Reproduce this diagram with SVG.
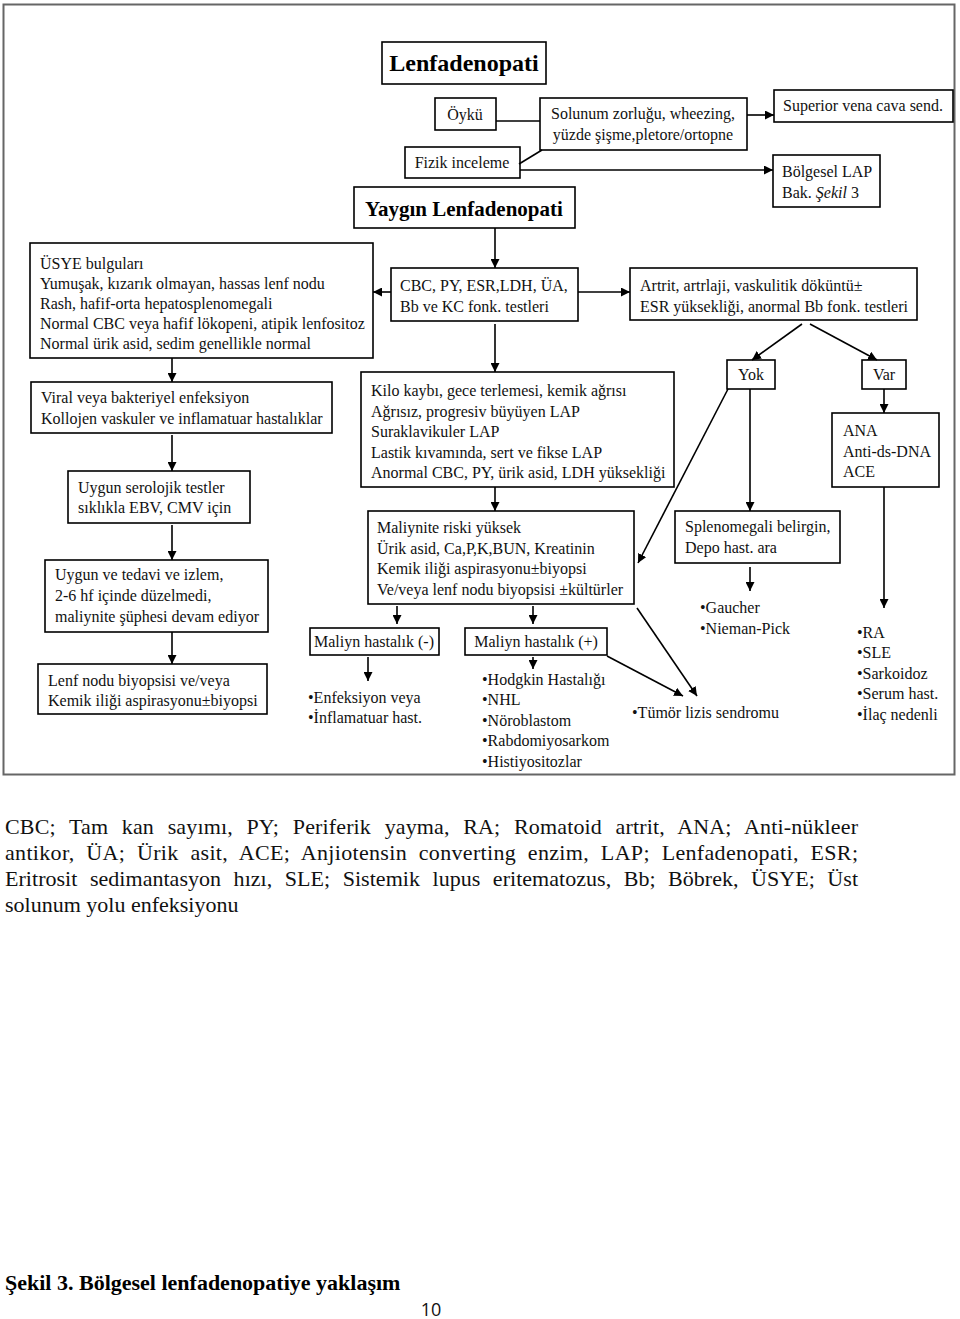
<svg xmlns="http://www.w3.org/2000/svg" width="960" height="1319" viewBox="0 0 960 1319">
<style>
.b{fill:#fff;stroke:#000;stroke-width:1.6}
.t{font-family:"Liberation Serif","Times New Roman",serif;font-size:16px;fill:#111}
.c{text-anchor:middle}
.h{font-family:"Liberation Serif","Times New Roman",serif;font-weight:bold;fill:#000}
.cn line,.cn path{stroke:#000;stroke-width:1.6;fill:none}
.ar{marker-end:url(#ah)}
.fn{font-family:"Liberation Serif","Times New Roman",serif;font-size:22px;fill:#111}
</style>
<defs>
<marker id="ah" markerUnits="userSpaceOnUse" markerWidth="10" markerHeight="9" refX="9" refY="4.5" orient="auto">
<path d="M0,0 L9,4.5 L0,9 z" fill="#000"/>
</marker>
</defs>
<rect width="960" height="1319" fill="#fff"/>
<rect x="3.5" y="4.5" width="951" height="770" fill="none" stroke="#666" stroke-width="2"/>

<g id="n-lenfadenopati"><rect class="b" x="382" y="42" width="164" height="42"/><text class="h c" x="464" y="71" font-size="24">Lenfadenopati</text></g>
<g id="n-oyku"><rect class="b" x="435" y="98" width="61" height="32"/><text class="t c" x="465" y="120">Öykü</text></g>
<g id="n-solunum"><rect class="b" x="540" y="98" width="207" height="52"/><text class="t c" x="643" y="119">Solunum zorluğu, wheezing,</text><text class="t c" x="643" y="140">yüzde şişme,pletore/ortopne</text></g>
<g id="n-superior"><rect class="b" x="774" y="90" width="179" height="32"/><text class="t c" x="863" y="111">Superior vena cava send.</text></g>
<g id="n-fizik"><rect class="b" x="405" y="147" width="115" height="31"/><text class="t c" x="462" y="168">Fizik inceleme</text></g>
<g id="n-bolgesel"><rect class="b" x="773" y="155" width="107" height="52"/><text class="t" x="782" y="177">Bölgesel LAP</text><text class="t" x="782" y="198">Bak. <tspan font-style="italic">Şekil</tspan> 3</text></g>
<g id="n-yaygin"><rect class="b" x="354" y="187" width="221" height="41"/><text class="h c" x="464" y="216" font-size="21">Yaygın Lenfadenopati</text></g>

<g id="n-usye"><rect class="b" x="30" y="243" width="343" height="115"/>
<text class="t" x="40" y="269">ÜSYE bulguları</text>
<text class="t" x="40" y="289">Yumuşak, kızarık olmayan, hassas lenf nodu</text>
<text class="t" x="40" y="309">Rash, hafif-orta hepatosplenomegali</text>
<text class="t" x="40" y="329">Normal CBC veya hafif lökopeni, atipik lenfositoz</text>
<text class="t" x="40" y="349">Normal ürik asid, sedim genellikle normal</text></g>
<g id="n-cbc"><rect class="b" x="391" y="268" width="187" height="53"/><text class="t" x="400" y="291">CBC, PY, ESR,LDH, ÜA,</text><text class="t" x="400" y="312">Bb ve KC fonk. testleri</text></g>
<g id="n-artrit"><rect class="b" x="630" y="268" width="287" height="52"/><text class="t" x="640" y="291">Artrit, artrlaji, vaskulitik döküntü±</text><text class="t" x="640" y="312">ESR yüksekliği, anormal Bb fonk. testleri</text></g>

<g id="n-viral"><rect class="b" x="31" y="382" width="301" height="51"/><text class="t" x="41" y="403">Viral veya bakteriyel enfeksiyon</text><text class="t" x="41" y="424">Kollojen vaskuler ve inflamatuar hastalıklar</text></g>
<g id="n-seroloji"><rect class="b" x="68" y="471" width="182" height="52"/><text class="t" x="78" y="493">Uygun serolojik testler</text><text class="t" x="78" y="513">sıklıkla EBV, CMV için</text></g>
<g id="n-tedavi"><rect class="b" x="45" y="560" width="223" height="72"/><text class="t" x="55" y="580">Uygun ve tedavi ve izlem,</text><text class="t" x="55" y="601">2-6 hf içinde düzelmedi,</text><text class="t" x="55" y="622">maliynite şüphesi devam ediyor</text></g>
<g id="n-lenfnodu"><rect class="b" x="38" y="664" width="229" height="50"/><text class="t" x="48" y="686">Lenf nodu biyopsisi ve/veya</text><text class="t" x="48" y="706">Kemik iliği aspirasyonu±biyopsi</text></g>

<g id="n-kilo"><rect class="b" x="361" y="372" width="313" height="115"/>
<text class="t" x="371" y="396">Kilo kaybı, gece terlemesi, kemik ağrısı</text>
<text class="t" x="371" y="417">Ağrısız, progresiv büyüyen LAP</text>
<text class="t" x="371" y="437">Suraklavikuler LAP</text>
<text class="t" x="371" y="458">Lastik kıvamında, sert ve fikse LAP</text>
<text class="t" x="371" y="478">Anormal CBC, PY, ürik asid, LDH yüksekliği</text></g>
<g id="n-maliynite"><rect class="b" x="368" y="511" width="266" height="93"/>
<text class="t" x="377" y="533">Maliynite riski yüksek</text>
<text class="t" x="377" y="554">Ürik asid, Ca,P,K,BUN, Kreatinin</text>
<text class="t" x="377" y="574">Kemik iliği aspirasyonu±biyopsi</text>
<text class="t" x="377" y="595">Ve/veya lenf nodu biyopsisi ±kültürler</text></g>
<g id="n-maliyn-neg"><rect class="b" x="310" y="628" width="129" height="27"/><text class="t c" x="374" y="647">Maliyn hastalık (-)</text></g>
<g id="n-maliyn-pos"><rect class="b" x="465" y="628" width="142" height="27"/><text class="t c" x="536" y="647">Maliyn hastalık (+)</text></g>
<g id="n-enfeksiyon"><text class="t" x="308" y="703">•Enfeksiyon veya</text><text class="t" x="308" y="723">•İnflamatuar hast.</text></g>
<g id="n-hodgkin">
<text class="t" x="482" y="685">•Hodgkin Hastalığı</text>
<text class="t" x="482" y="705">•NHL</text>
<text class="t" x="482" y="726">•Nöroblastom</text>
<text class="t" x="482" y="746">•Rabdomiyosarkom</text>
<text class="t" x="482" y="767">•Histiyositozlar</text></g>

<g id="n-yok"><rect class="b" x="727" y="360" width="48" height="29"/><text class="t c" x="751" y="380">Yok</text></g>
<g id="n-var"><rect class="b" x="862" y="360" width="44" height="29"/><text class="t c" x="884" y="380">Var</text></g>
<g id="n-ana"><rect class="b" x="832" y="413" width="107" height="74"/><text class="t" x="843" y="436">ANA</text><text class="t" x="843" y="457">Anti-ds-DNA</text><text class="t" x="843" y="477">ACE</text></g>
<g id="n-spleno"><rect class="b" x="675" y="511" width="165" height="52"/><text class="t" x="685" y="532">Splenomegali belirgin,</text><text class="t" x="685" y="553">Depo hast. ara</text></g>
<g id="n-gaucher"><text class="t" x="700" y="613">•Gaucher</text><text class="t" x="700" y="634">•Nieman-Pick</text></g>
<g id="n-tumor"><text class="t" x="632" y="718">•Tümör lizis sendromu</text></g>
<g id="n-ra">
<text class="t" x="857" y="638">•RA</text>
<text class="t" x="857" y="658">•SLE</text>
<text class="t" x="857" y="679">•Sarkoidoz</text>
<text class="t" x="857" y="699">•Serum hast.</text>
<text class="t" x="857" y="720">•İlaç nedenli</text></g>

<g id="connectors" class="cn">
<line x1="496" y1="121" x2="540" y2="121"/>
<line class="ar" x1="747" y1="115" x2="774" y2="115"/>
<line x1="519" y1="164" x2="542" y2="150"/>
<line class="ar" x1="520" y1="170" x2="773" y2="170"/>
<line class="ar" x1="495" y1="228" x2="495" y2="268"/>
<line class="ar" x1="391" y1="292" x2="373" y2="292"/>
<line class="ar" x1="578" y1="292" x2="630" y2="292"/>
<line class="ar" x1="495" y1="324" x2="495" y2="372"/>
<line class="ar" x1="802" y1="324" x2="752" y2="360"/>
<line class="ar" x1="810" y1="324" x2="877" y2="360"/>
<line class="ar" x1="172" y1="358" x2="172" y2="382"/>
<line class="ar" x1="172" y1="435" x2="172" y2="471"/>
<line class="ar" x1="172" y1="525" x2="172" y2="560"/>
<line class="ar" x1="172" y1="632" x2="172" y2="664"/>
<line class="ar" x1="495" y1="487" x2="495" y2="511"/>
<line class="ar" x1="397" y1="606" x2="397" y2="624"/>
<line class="ar" x1="533" y1="606" x2="533" y2="624"/>
<line class="ar" x1="368" y1="657" x2="368" y2="681"/>
<line class="ar" x1="533" y1="657" x2="533" y2="669"/>
<line class="ar" x1="728" y1="389" x2="638" y2="563"/>
<line class="ar" x1="750" y1="389" x2="750" y2="511"/>
<line class="ar" x1="750" y1="567" x2="750" y2="591"/>
<line class="ar" x1="884" y1="389" x2="884" y2="413"/>
<line class="ar" x1="884" y1="487" x2="884" y2="608"/>
<line class="ar" x1="607" y1="656" x2="683" y2="696"/>
<line class="ar" x1="637" y1="608" x2="697" y2="696"/>
</g>

<g id="footnote">
<text class="fn" x="5" y="834" word-spacing="8" textLength="853" lengthAdjust="spacing">CBC; Tam kan sayımı, PY; Periferik yayma, RA; Romatoid artrit, ANA; Anti-nükleer</text>
<text class="fn" x="5" y="860" word-spacing="6" textLength="853" lengthAdjust="spacing">antikor, ÜA; Ürik asit,  ACE; Anjiotensin converting enzim, LAP; Lenfadenopati, ESR;</text>
<text class="fn" x="5" y="886" word-spacing="7" textLength="853" lengthAdjust="spacing">Eritrosit sedimantasyon hızı, SLE; Sistemik lupus eritematozus, Bb; Böbrek, ÜSYE; Üst</text>
<text class="fn" x="5" y="912">solunum yolu enfeksiyonu</text>
</g>
<g id="caption">
<text class="h" x="5" y="1290" font-size="22">Şekil 3. Bölgesel lenfadenopatiye yaklaşım</text>
<text x="431" y="1316" font-family="'Open Sans','Liberation Sans',sans-serif" font-size="18" text-anchor="middle" fill="#111">10</text>
</g>
</svg>
